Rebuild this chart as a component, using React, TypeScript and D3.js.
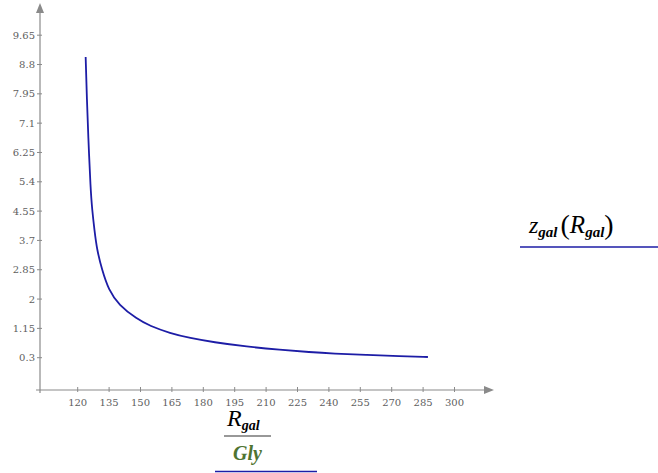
import React from "react";
import * as d3 from "d3";

const xTicks = [120, 135, 150, 165, 180, 195, 210, 225, 240, 255, 270, 285, 300];
const yTicks = [0.3, 1.15, 2, 2.85, 3.7, 4.55, 5.4, 6.25, 7.1, 7.95, 8.8, 9.65];
const yTickLabels = ["0.3", "1.15", "2", "2.85", "3.7", "4.55", "5.4", "6.25", "7.1", "7.95", "8.8", "9.65"];

// R_gal values (Gly) and z_gal values
const rGal = [123.8, 124.35, 125.02, 126.16, 126.93, 127.98, 129.2, 131.6, 134.8, 139.6, 148.3, 154.5, 164.1, 173.6, 184.8, 200.7, 216.6, 231.0, 242.1, 258.1, 274.0, 287.3];
const zGal = [9.02, 7.87, 6.75, 5.16, 4.58, 4.01, 3.43, 2.85, 2.26, 1.83, 1.42, 1.22, 1.01, 0.87, 0.75, 0.62, 0.53, 0.46, 0.42, 0.38, 0.34, 0.32];

const W = 658;
const H = 473;

export default function App() {
  const x = d3.scaleLinear().domain([120, 300]).range([77.7, 454.5]);
  const y = d3.scaleLinear().domain([0.3, 9.65]).range([357.7, 35.2]);
  const axisX = 40;
  const axisY = 390;
  const axisColor = "#8a8a8a";
  const tickColor = "#5e5e5e";
  const lineColor = "#1d1da6";

  const pts: [number, number][] = rGal.map((r, i) => [r, zGal[i]]);
  const line = d3
    .line<[number, number]>()
    .x((d) => x(d[0]))
    .y((d) => y(d[1]))
    .curve(d3.curveBasis);

  const serif = { fontFamily: "DejaVu Serif, Liberation Serif, serif" };
  const mathStyle = { fontFamily: "Liberation Serif, DejaVu Serif, serif" };

  return (
    <svg
      width={W}
      height={H}
      style={{ position: "absolute", left: 0, top: 0, display: "block", background: "#fff" }}
    >
      {/* axes */}
      <line x1={axisX} x2={axisX} y1={393} y2={10} stroke={axisColor} strokeWidth={1.2} />
      <path d={`M${axisX - 4},13 L${axisX},3 L${axisX + 4},13 Z`} fill={axisColor} />
      <line x1={36} x2={487} y1={axisY} y2={axisY} stroke={axisColor} strokeWidth={1.2} />
      <path d={`M484,${axisY - 4} L494,${axisY} L484,${axisY + 4} Z`} fill={axisColor} />

      {/* y ticks */}
      {yTicks.map((v, i) => (
        <g key={"y" + i}>
          <line x1={axisX - 3} x2={axisX + 2} y1={y(v)} y2={y(v)} stroke={axisColor} strokeWidth={1} />
          <text
            x={axisX - 5}
            y={y(v)}
            dy="0.35em"
            textAnchor="end"
            style={serif}
            fontSize={10}
            fill={tickColor}
          >
            {yTickLabels[i]}
          </text>
        </g>
      ))}

      {/* x ticks */}
      {xTicks.map((v, i) => (
        <g key={"x" + i}>
          <line x1={x(v)} x2={x(v)} y1={axisY - 3} y2={axisY + 2} stroke={axisColor} strokeWidth={1} />
          <text
            x={x(v)}
            y={axisY + 16}
            textAnchor="middle"
            style={serif}
            fontSize={10}
            fill={tickColor}
          >
            {v}
          </text>
        </g>
      ))}

      {/* curve */}
      <path d={line(pts) || ""} fill="none" stroke={lineColor} strokeWidth={1.8} />

      {/* x-axis label */}
      <text x={227} y={426} style={mathStyle} fontStyle="italic" fill="#000">
        <tspan fontSize={24}>R</tspan>
        <tspan fontSize={14} dy={4} fontWeight="bold">gal</tspan>
      </text>
      <line x1={224} x2={271} y1={436} y2={436} stroke="#333" strokeWidth={1.2} />
      <text
        x={247.5}
        y={460}
        textAnchor="middle"
        style={mathStyle}
        fontStyle="italic"
        fontWeight="bold"
        fontSize={20}
        fill="#4f7431"
      >
        Gly
      </text>
      <line x1={215} x2={317} y1={471.5} y2={471.5} stroke={lineColor} strokeWidth={1.6} />

      {/* legend */}
      <text x={529} y={233} style={mathStyle} fontStyle="italic" fill="#000">
        <tspan fontSize={24}>z</tspan>
        <tspan fontSize={15} dy={4} fontWeight="bold">gal</tspan>
        <tspan fontSize={28} dy={-3} dx={3} fontStyle="normal">(</tspan>
        <tspan fontSize={25} dy={-1}>R</tspan>
        <tspan fontSize={15} dy={4} fontWeight="bold">gal</tspan>
        <tspan fontSize={28} dy={-3} fontStyle="normal">)</tspan>
      </text>
      <line x1={520} x2={658} y1={247} y2={247} stroke={lineColor} strokeWidth={1.6} />
    </svg>
  );
}
